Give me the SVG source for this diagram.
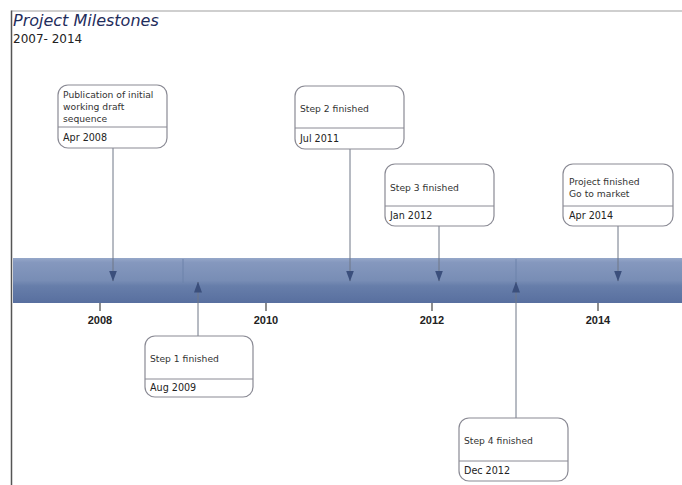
<svg xmlns="http://www.w3.org/2000/svg" width="682" height="485" viewBox="0 0 682 485">
<style>
.box{fill:#fff;stroke:#8a8a94;stroke-width:1.2}
.div{stroke:#8a8a94;stroke-width:1}
.t{font-family:"DejaVu Sans",Verdana,sans-serif;font-size:9.2px;fill:#333}
.d{font-family:"DejaVu Sans",Verdana,sans-serif;font-size:9.6px;fill:#222}
.yr{font-family:"Liberation Sans",Arial,sans-serif;font-size:11px;font-weight:bold;fill:#222;text-anchor:middle}
.con{stroke:#6f7686;stroke-width:1;fill:none}
.tick{stroke:#444;stroke-width:1.2}
</style>
<defs>
<linearGradient id="bar" x1="0" y1="0" x2="0" y2="1">
<stop offset="0" stop-color="#95a7c9"/>
<stop offset="0.1" stop-color="#8598be"/>
<stop offset="0.5" stop-color="#788db5"/>
<stop offset="0.62" stop-color="#677eaa"/>
<stop offset="1" stop-color="#586f9f"/>
</linearGradient>
<marker id="ah" markerWidth="11" markerHeight="8" refX="10.5" refY="4" orient="auto" markerUnits="userSpaceOnUse" viewBox="0 0 11 8">
<path d="M0,0 L11,4 L0,8 Z" fill="#3b4f7c"/>
</marker>
</defs>
<rect width="682" height="485" fill="#fff"/>
<line x1="11.5" y1="11" x2="682" y2="11" stroke="#a0a0a0" stroke-width="1.2"/>
<line x1="11.5" y1="10.5" x2="11.5" y2="485" stroke="#555" stroke-width="1.5"/>
<text x="13" y="26" font-family="'DejaVu Sans',Verdana,sans-serif" font-style="italic" font-size="16" fill="#1f2d5c">Project Milestones</text>
<text x="13" y="43" font-family="'DejaVu Sans',Verdana,sans-serif" font-size="12" fill="#222">2007- 2014</text>
<g id="timeline">
<rect x="13" y="258" width="669" height="45" fill="url(#bar)"/>
<line x1="183" y1="259" x2="183" y2="283" stroke="#6d82aa" stroke-width="1"/>
<line x1="516" y1="259" x2="516" y2="283" stroke="#6d82aa" stroke-width="1"/>
<line class="tick" x1="100" y1="303" x2="100" y2="311"/>
<line class="tick" x1="266" y1="303" x2="266" y2="311"/>
<line class="tick" x1="432" y1="303" x2="432" y2="311"/>
<line class="tick" x1="598" y1="303" x2="598" y2="311"/>
<text class="yr" x="100" y="324">2008</text>
<text class="yr" x="266" y="324">2010</text>
<text class="yr" x="432" y="324">2012</text>
<text class="yr" x="598" y="324">2014</text>
</g>
<g id="connectors">
<line class="con" x1="113" y1="148" x2="113" y2="281" marker-end="url(#ah)"/>
<line class="con" x1="350" y1="149" x2="350" y2="281" marker-end="url(#ah)"/>
<line class="con" x1="439" y1="226" x2="439" y2="281" marker-end="url(#ah)"/>
<line class="con" x1="618" y1="226" x2="618" y2="281" marker-end="url(#ah)"/>
<line class="con" x1="198" y1="336" x2="198" y2="282" marker-end="url(#ah)"/>
<line class="con" x1="516" y1="418" x2="516" y2="282" marker-end="url(#ah)"/>
</g>
<g id="m2008">
<rect class="box" x="58" y="85" width="109" height="63" rx="10"/>
<line class="div" x1="58" y1="127" x2="167" y2="127"/>
<text class="t" x="63" y="98">Publication of initial</text>
<text class="t" x="63" y="110">working draft</text>
<text class="t" x="63" y="122">sequence</text>
<text class="d" x="63" y="141">Apr 2008</text>
</g>
<g id="m2011">
<rect class="box" x="295" y="86" width="109" height="63" rx="10"/>
<line class="div" x1="295" y1="128" x2="404" y2="128"/>
<text class="t" x="300" y="112">Step 2 finished</text>
<text class="d" x="300" y="142">Jul 2011</text>
</g>
<g id="m2012">
<rect class="box" x="385" y="164" width="109" height="62" rx="10"/>
<line class="div" x1="385" y1="206" x2="494" y2="206"/>
<text class="t" x="390" y="191">Step 3 finished</text>
<text class="d" x="390" y="219">Jan 2012</text>
</g>
<g id="m2014">
<rect class="box" x="563" y="164" width="110" height="62" rx="10"/>
<line class="div" x1="563" y1="206" x2="673" y2="206"/>
<text class="t" x="569" y="185">Project finished</text>
<text class="t" x="569" y="197">Go to market</text>
<text class="d" x="569" y="219">Apr 2014</text>
</g>
<g id="m2009">
<rect class="box" x="145" y="336" width="108" height="61" rx="10"/>
<line class="div" x1="145" y1="379" x2="253" y2="379"/>
<text class="t" x="150" y="362">Step 1 finished</text>
<text class="d" x="150" y="391">Aug 2009</text>
</g>
<g id="m2012b">
<rect class="box" x="459" y="418" width="109" height="63" rx="10"/>
<line class="div" x1="459" y1="461" x2="568" y2="461"/>
<text class="t" x="464" y="444">Step 4 finished</text>
<text class="d" x="464" y="474">Dec 2012</text>
</g>
</svg>
